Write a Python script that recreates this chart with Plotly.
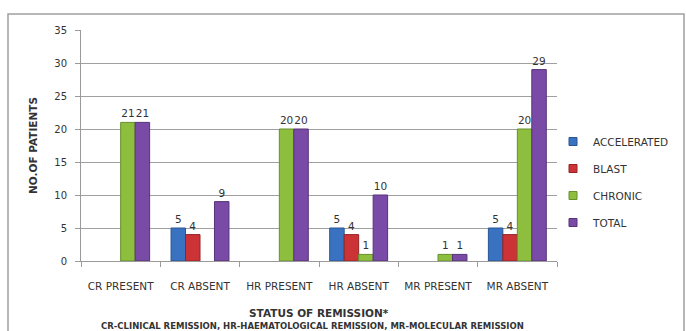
import plotly.graph_objects as go

categories = ["CR PRESENT", "CR ABSENT", "HR PRESENT", "HR ABSENT", "MR PRESENT", "MR ABSENT"]
series_names = ["ACCELERATED", "BLAST", "CHRONIC", "TOTAL"]
accelerated = [0, 5, 0, 5, 0, 5]
blast = [0, 4, 0, 4, 0, 4]
chronic = [21, 0, 20, 1, 1, 20]
total = [21, 9, 20, 10, 1, 29]
y_ticks = [0, 5, 10, 15, 20, 25, 30, 35]

colors = ["#3A72C2", "#CC3336", "#8DBE3E", "#7A4BA6"]
line_colors = ["#2A5590", "#962224", "#67902A", "#573378"]

FONT = "DejaVu Sans"
TXT = "#333333"
fig = go.Figure()
for name, vals, c, lc in zip(series_names, [accelerated, blast, chronic, total], colors, line_colors):
    fig.add_trace(go.Bar(
        x=categories, y=vals, name=name, showlegend=False,
        marker=dict(color=c, line=dict(color=lc, width=[1 if v else 0 for v in vals])),
        text=[str(v) if v else "" for v in vals],
        textposition="outside", constraintext="none", cliponaxis=False,
        textfont=dict(family=FONT, size=10.5, color=TXT),
    ))
# legend entries (small square swatches like the original)
for name, c, lc in zip(series_names, colors, line_colors):
    fig.add_trace(go.Scatter(
        x=[None], y=[None], mode="markers", name=name, legendgroup=name,
        marker=dict(symbol="square", size=8, color=c, line=dict(color=lc, width=1)),
        showlegend=True,
    ))

L, R, T, B = 81, 129, 30, 70
W, H = 686, 331
pw, ph = W - L - R, H - T - B

def px(x):
    return (x - L) / pw

def py(y):
    return (H - B - y) / ph

fig.update_layout(
    width=W, height=H, margin=dict(l=L, r=R, t=T, b=B),
    paper_bgcolor="white", plot_bgcolor="white",
    barmode="group", bargap=0.27, bargroupgap=0,
    font=dict(family=FONT, size=10, color=TXT),
    legend=dict(x=px(553), y=py(127), xanchor="left", yanchor="top",
                font=dict(family=FONT, size=10.5, color=TXT),
                tracegroupgap=8, itemwidth=30, bgcolor="rgba(0,0,0,0)"),
    xaxis=dict(showline=True, linecolor="#9A9A9A", linewidth=1, ticks="outside",
               tickson="boundaries", ticklen=5, tickcolor="#9A9A9A",
               ticklabelstandoff=15, tickfont=dict(family=FONT, size=10.5, color=TXT)),
    yaxis=dict(range=[0, 35], tickvals=y_ticks, showgrid=True, gridcolor="#A0A0A0",
               showline=True, linecolor="#9A9A9A", ticks="outside", ticklen=5,
               tickcolor="#9A9A9A", ticklabelstandoff=6, zeroline=False,
               tickfont=dict(family=FONT, size=10, color=TXT),
               title=dict(text="<b>NO.OF PATIENTS</b>", standoff=14,
                          font=dict(family=FONT, size=10.5, color=TXT))),
    showlegend=True,
)

fig.add_annotation(text="<b>STATUS OF REMISSION*</b>", xref="paper", yref="paper",
                   x=0.5, y=py(313), xanchor="center", yanchor="middle", showarrow=False,
                   font=dict(family=FONT, size=10.5, color=TXT))
fig.add_annotation(text="<b>CR-CLINICAL REMISSION, HR-HAEMATOLOGICAL REMISSION, MR-MOLECULAR REMISSION</b>",
                   xref="paper", yref="paper", x=px(312), y=py(326), xanchor="center",
                   yanchor="middle", showarrow=False,
                   font=dict(family=FONT, size=8.5, color=TXT))
fig.add_shape(type="rect", xref="paper", yref="paper", x0=px(8), x1=px(684),
              y0=py(345), y1=py(14), line=dict(color="#A0A0A0", width=1.5),
              fillcolor="rgba(0,0,0,0)", layer="below")

fig.write_html("out.html")
